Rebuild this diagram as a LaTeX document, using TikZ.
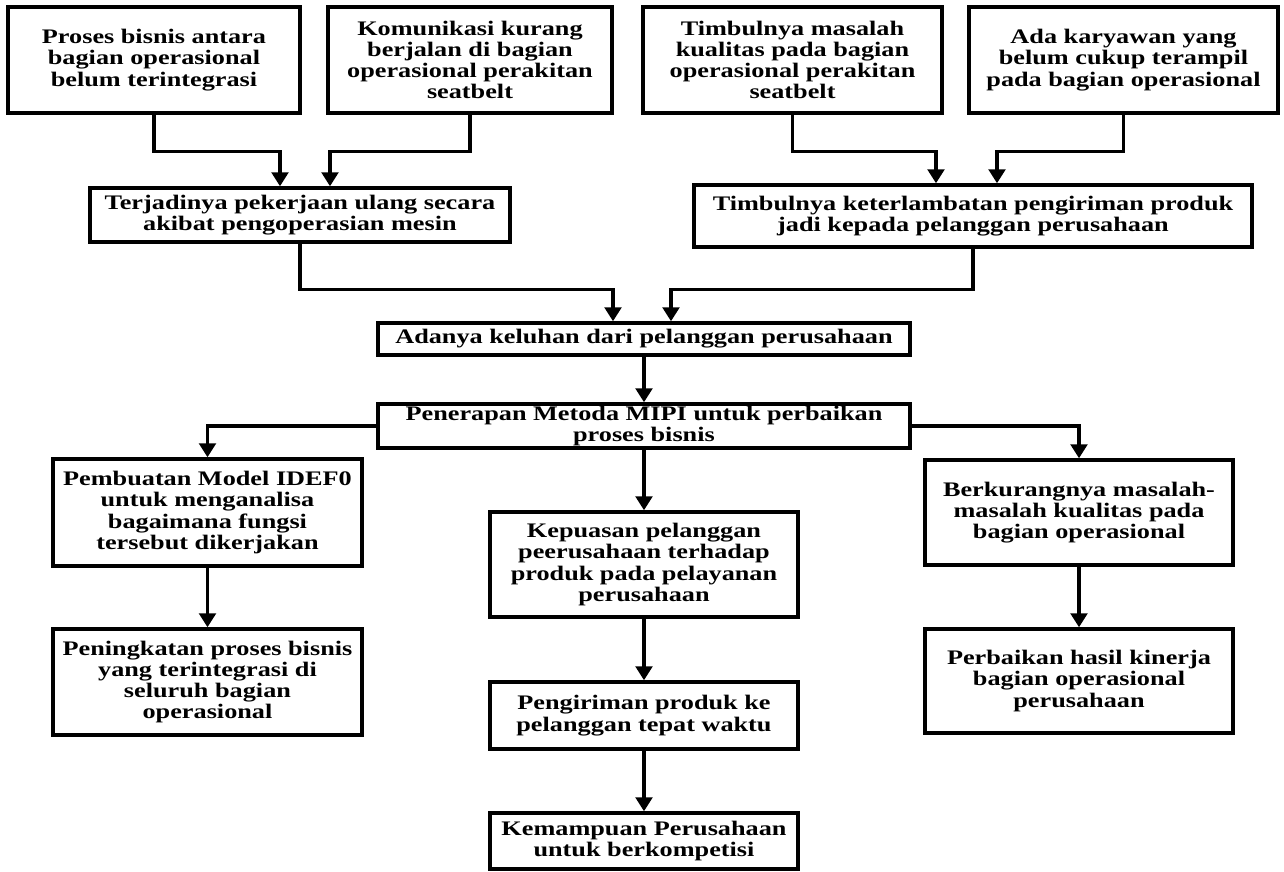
\documentclass[tikz,border=0pt]{standalone}
\usepackage{fontspec}
\newfontfamily\boxfont[FakeStretch=1.27]{Liberation Serif}
\usetikzlibrary{arrows.meta}
\newcommand{\bx}[6]{\node[boxst,minimum width={(#4-#2)*0.75pt},minimum height={(#5-#3)*0.75pt}] (#1) at ({(#2+#4)/2},{(#3+#5)/2}) {#6};}
\begin{document}
\begin{tikzpicture}[x=0.75pt,y=-0.75pt,
  boxst/.style={draw,line width=2.6pt,inner sep=0pt,align=center,
    font={\boxfont\bfseries\fontsize{15.5pt}{15.9pt}\selectfont}},
  arr/.style={line width=2.5pt,-{Triangle[width=12.5pt,length=10.5pt]}}]
\fill[white] (0,0) rectangle (1284,871);
\useasboundingbox (0,0) rectangle (1284,871);
\bx{A}{8}{7}{300}{113}{Proses bisnis antara\\bagian operasional\\belum terintegrasi}
\bx{B}{328}{7}{612}{113}{Komunikasi kurang\\berjalan di bagian\\operasional perakitan\\seatbelt}
\bx{C}{643}{7}{942}{113}{Timbulnya masalah\\kualitas pada bagian\\operasional perakitan\\seatbelt}
\bx{D}{969}{7}{1278}{113}{Ada karyawan yang\\belum cukup terampil\\pada bagian operasional}
\bx{E}{90}{188}{510}{242}{Terjadinya pekerjaan ulang secara\\akibat pengoperasian mesin}
\bx{F}{694}{185}{1252}{247}{Timbulnya keterlambatan pengiriman produk\\jadi kepada pelanggan perusahaan}
\bx{G}{378}{323}{910}{355}{Adanya keluhan dari pelanggan perusahaan}
\bx{H}{378}{404}{910}{448}{Penerapan Metoda MIPI untuk perbaikan\\proses bisnis}
\bx{I}{53}{459}{362}{566}{Pembuatan Model IDEF0\\untuk menganalisa\\bagaimana fungsi\\tersebut dikerjakan}
\bx{J}{53}{629}{362}{735}{Peningkatan proses bisnis\\yang terintegrasi di\\seluruh bagian\\operasional}
\bx{K}{490}{512}{798}{617}{Kepuasan pelanggan\\peerusahaan terhadap\\produk pada pelayanan\\perusahaan}
\bx{L}{490}{682}{798}{749}{Pengiriman produk ke\\pelanggan tepat waktu}
\bx{M}{490}{813}{798}{869}{Kemampuan Perusahaan\\untuk berkompetisi}
\bx{N}{925}{460}{1233}{565}{Berkurangnya masalah-\\masalah kualitas pada\\bagian operasional}
\bx{O}{925}{629}{1233}{733}{Perbaikan hasil kinerja\\bagian operasional\\perusahaan}
% top row to second row
\draw[arr] (A.south) -- ++(0,37) -| ([xshift={-20*0.75pt}]E.north);
\draw[arr] (B.south) -- ++(0,37) -| ([xshift={30*0.75pt}]E.north);
\draw[arr] (C.south) -- ++(0,37) -| ([xshift={-37*0.75pt}]F.north);
\draw[arr] (D.south) -- ++(0,37) -| ([xshift={24*0.75pt}]F.north);
% second row to G
\draw[arr] (E.south) -- ++(0,46) -| ([xshift={-31*0.75pt}]G.north);
\draw[arr] (F.south) -- ++(0,41) -| ([xshift={27*0.75pt}]G.north);
\draw[arr] (G.south) -- (H.north);
\draw[arr] (H.west) -| (I.north);
\draw[arr] (H.south) -- (K.north);
\draw[arr] (H.east) -| (N.north);
\draw[arr] (I.south) -- (J.north);
\draw[arr] (K.south) -- (L.north);
\draw[arr] (L.south) -- (M.north);
\draw[arr] (N.south) -- (O.north);
\end{tikzpicture}
\end{document}
